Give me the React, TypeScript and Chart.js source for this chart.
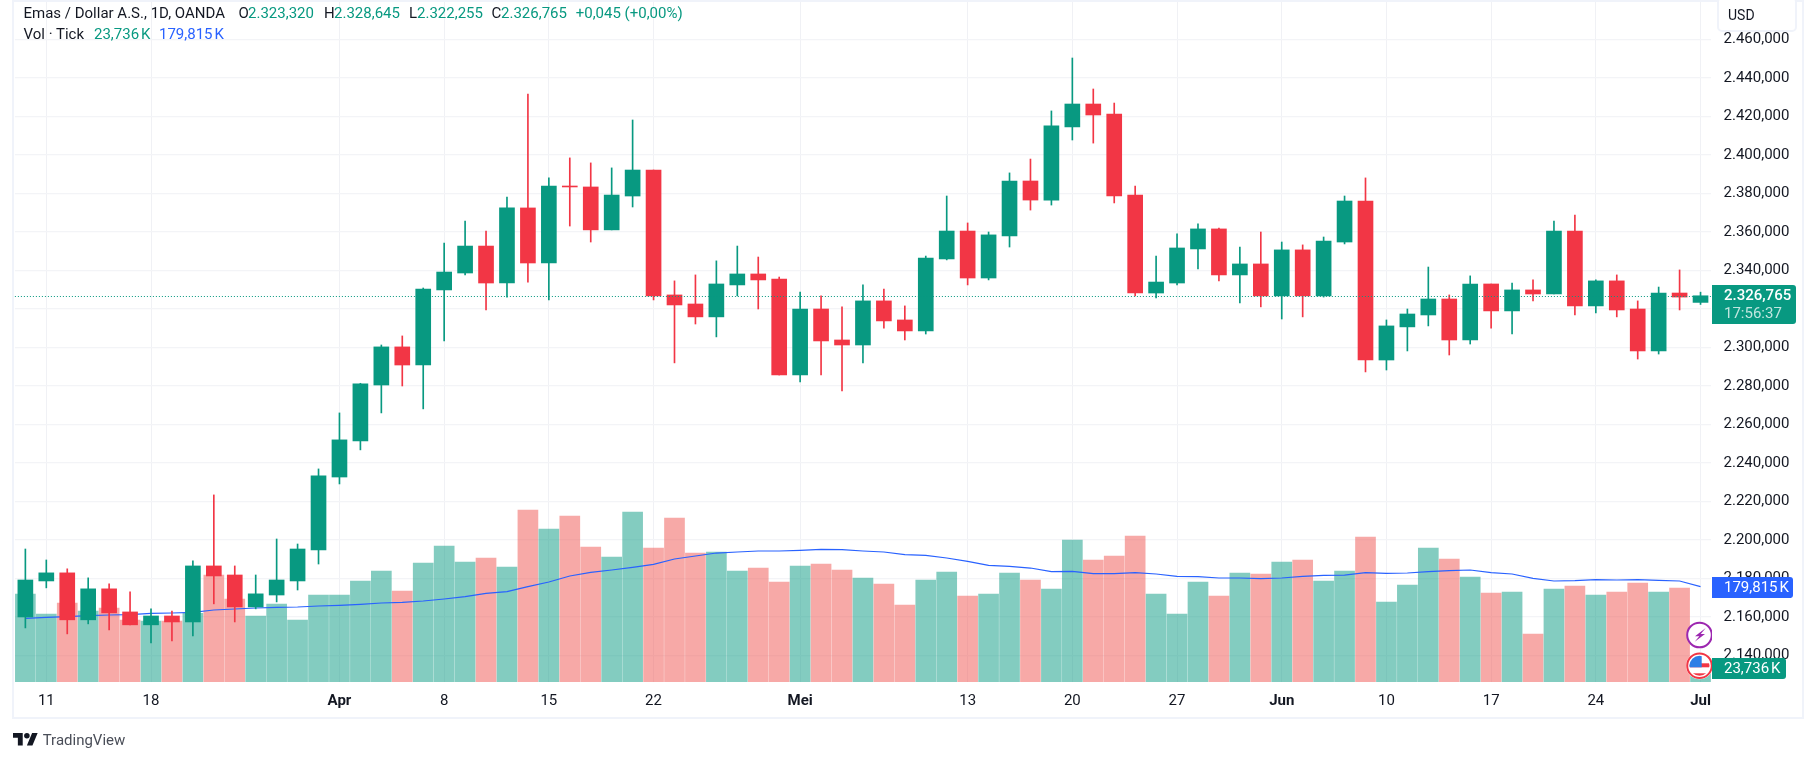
import { useEffect, useRef } from 'react';
import Chart from 'chart.js/auto';

const FONT = 'Roboto, sans-serif';
const GREEN = '#089981';
const RED = '#f23645';
const BLUE = '#2962ff';
const TEXT = '#131722';

// trading days, 2024 (MM-DD)
const days = [
  '03-08', '03-11', '03-12', '03-13', '03-14', '03-15', '03-18', '03-19', '03-20', '03-21', '03-22',
  '03-25', '03-26', '03-27', '03-28', '04-01', '04-02', '04-03', '04-04', '04-05', '04-08', '04-09',
  '04-10', '04-11', '04-12', '04-15', '04-16', '04-17', '04-18', '04-19', '04-22', '04-23', '04-24',
  '04-25', '04-26', '04-29', '04-30', '05-01', '05-02', '05-03', '05-06', '05-07', '05-08', '05-09',
  '05-10', '05-13', '05-14', '05-15', '05-16', '05-17', '05-20', '05-21', '05-22', '05-23', '05-24',
  '05-27', '05-28', '05-29', '05-30', '05-31', '06-03', '06-04', '06-05', '06-06', '06-07', '06-10',
  '06-11', '06-12', '06-13', '06-14', '06-17', '06-18', '06-19', '06-20', '06-21', '06-24', '06-25',
  '06-26', '06-27', '06-28', '07-01',
];

const dayTicks: Record<string, string> = {
  '03-11': '11', '03-18': '18', '04-01': 'Apr', '04-08': '8', '04-15': '15', '04-22': '22', '05-01': 'Mei',
  '05-13': '13', '05-20': '20', '05-27': '27', '06-03': 'Jun', '06-10': '10', '06-17': '17', '06-24': '24', '07-01': 'Jul',
};
const monthTicks = ['Apr', 'Mei', 'Jun', 'Jul'];

const opens = [
  2159.9, 2178.6, 2182.8, 2158.4, 2174.5, 2162.5, 2155.8, 2160.4, 2157.3, 2186.4, 2181.7,
  2165.1, 2171.3, 2178.6, 2194.7, 2232.6, 2251.3, 2280.4, 2300.2, 2290.8, 2329.8, 2338.6,
  2352.6, 2333.4, 2372.4, 2343.8, 2383.8, 2383.3, 2361.0, 2378.6, 2392.1, 2327.2, 2322.5,
  2315.8, 2332.4, 2338.1, 2335.5, 2285.6, 2319.9, 2303.8, 2301.2, 2324.1, 2314.2, 2308.5,
  2345.9, 2360.4, 2336.0, 2357.8, 2386.4, 2376.5, 2414.5, 2426.4, 2421.2, 2379.1, 2328.2,
  2333.4, 2351.1, 2361.5, 2337.6, 2343.3, 2326.7, 2350.6, 2326.7, 2354.7, 2376.0, 2293.4,
  2310.6, 2316.8, 2325.1, 2303.8, 2332.9, 2318.9, 2329.8, 2327.7, 2360.4, 2321.5, 2334.5,
  2319.9, 2298.1, 2328.2, 2323.32,
];
const highs = [
  2195.2, 2189.5, 2184.9, 2180.2, 2177.1, 2172.9, 2164.1, 2163.0, 2189.0, 2223.3, 2186.4,
  2181.7, 2200.4, 2197.8, 2236.8, 2265.9, 2281.3, 2301.2, 2305.9, 2330.8, 2354.2, 2365.6,
  2360.4, 2378.1, 2431.6, 2388.0, 2398.4, 2395.8, 2393.2, 2418.1, 2392.1, 2334.5, 2337.6,
  2344.9, 2352.6, 2346.9, 2336.5, 2328.7, 2326.7, 2321.0, 2332.4, 2330.3, 2321.5, 2347.4,
  2378.6, 2364.6, 2359.9, 2390.6, 2397.8, 2422.8, 2450.3, 2434.2, 2426.9, 2383.8, 2347.4,
  2358.9, 2364.1, 2362.0, 2352.1, 2359.9, 2354.7, 2353.2, 2357.3, 2378.6, 2388.0, 2314.2,
  2319.9, 2341.7, 2327.2, 2337.1, 2332.9, 2333.4, 2335.0, 2365.6, 2368.7, 2335.0, 2337.6,
  2324.1, 2331.3, 2340.2, 2328.645,
];
const lows = [
  2154.2, 2175.0, 2151.1, 2156.3, 2153.2, 2155.8, 2146.4, 2147.4, 2150.0, 2166.7, 2157.3,
  2164.1, 2167.7, 2173.9, 2187.4, 2229.0, 2246.7, 2265.9, 2279.9, 2268.0, 2303.3, 2337.6,
  2319.4, 2326.1, 2333.9, 2324.6, 2363.0, 2354.7, 2361.0, 2372.9, 2324.6, 2291.9, 2312.1,
  2305.4, 2326.7, 2319.9, 2285.6, 2282.0, 2285.6, 2277.3, 2291.9, 2310.0, 2303.8, 2306.9,
  2345.4, 2332.4, 2335.0, 2352.1, 2371.3, 2373.9, 2407.7, 2406.1, 2375.0, 2326.7, 2325.6,
  2332.4, 2340.7, 2334.5, 2323.0, 2321.0, 2314.7, 2315.8, 2326.1, 2353.7, 2287.2, 2288.2,
  2298.1, 2311.1, 2296.0, 2301.7, 2310.0, 2306.9, 2324.1, 2327.7, 2316.8, 2317.8, 2315.8,
  2293.9, 2296.5, 2319.4, 2322.255,
];
const closes = [
  2179.1, 2182.8, 2158.4, 2174.5, 2162.0, 2155.8, 2160.4, 2157.3, 2186.4, 2181.2, 2165.1,
  2171.9, 2179.1, 2195.2, 2233.2, 2251.9, 2281.0, 2300.2, 2290.8, 2330.3, 2339.1, 2352.6,
  2333.4, 2372.4, 2343.8, 2383.8, 2383.3, 2361.0, 2379.1, 2392.1, 2326.7, 2322.0, 2315.8,
  2332.9, 2338.1, 2335.0, 2285.6, 2319.9, 2303.3, 2301.2, 2324.1, 2313.7, 2308.5, 2346.4,
  2360.4, 2336.0, 2358.4, 2386.4, 2376.5, 2415.0, 2426.4, 2420.7, 2378.6, 2328.2, 2333.9,
  2351.6, 2361.5, 2337.6, 2343.3, 2326.7, 2350.6, 2326.7, 2355.2, 2376.0, 2293.4, 2311.1,
  2317.3, 2325.1, 2303.8, 2332.9, 2318.9, 2329.8, 2327.7, 2360.4, 2321.5, 2334.5, 2319.4,
  2298.1, 2328.2, 2326.1, 2326.765,
];

// tick volume and its moving average, in thousands
const volumes = [
  166.0, 128.3, 149.0, 133.9, 139.6, 117.0, 115.1, 115.1, 129.5, 201.8, 156.6,
  124.5, 147.1, 117.0, 164.1, 164.1, 190.5, 209.4, 171.7, 224.5, 256.6, 226.4,
  233.9, 216.9, 324.5, 288.6, 313.1, 254.7, 235.8, 320.7, 252.8, 309.4, 243.3,
  245.2, 209.4, 215.0, 188.6, 218.8, 222.6, 211.3, 196.2, 184.9, 145.3, 192.4,
  207.5, 162.2, 166.0, 205.6, 192.4, 175.4, 267.9, 230.1, 237.7, 275.4, 166.0,
  128.3, 188.6, 162.2, 205.6, 203.7, 226.4, 230.1, 190.5, 209.4, 273.5, 150.9,
  183.0, 252.8, 232.0, 198.1, 167.9, 169.8, 90.5, 175.4, 181.1, 164.1, 169.8,
  186.8, 169.8, 177.3, 23.736,
];
const volumeAverage = [
  120.1, 122.0, 123.2, 125.1, 126.4, 127.0, 129.5, 130.2, 131.4, 135.8, 137.7,
  139.6, 140.9, 141.5, 143.4, 144.6, 146.5, 149.0, 150.3, 152.8, 156.6, 161.0,
  167.3, 170.4, 179.8, 188.6, 200.0, 206.9, 211.3, 216.3, 222.0, 232.0, 237.7,
  243.3, 245.2, 247.1, 247.1, 248.4, 250.3, 249.6, 247.1, 245.2, 240.2, 238.9,
  233.9, 227.6, 220.1, 218.2, 215.0, 208.1, 208.8, 204.4, 204.4, 206.2, 203.7,
  199.3, 198.7, 196.2, 196.2, 194.9, 196.2, 199.3, 201.2, 201.8, 206.2, 205.0,
  205.6, 208.1, 210.0, 211.3, 206.2, 203.7, 195.6, 190.5, 191.2, 193.0, 192.4,
  193.0, 191.8, 190.5, 179.815,
];

const lastClose = closes[closes.length - 1];

const isUp = (i: number) => closes[i] >= opens[i];
const upDown = (up: string, down: string) => days.map((_, i) => (isUp(i) ? up : down));

const priceLabel = (v: number) =>
  `${Math.floor(v / 1000)}.${String(v % 1000).padStart(3, '0')},000`;

const priceLine = {
  id: 'priceLine',
  afterDatasetsDraw(chart: any) {
    const { ctx, chartArea, scales } = chart;
    const y = Math.round(scales.y.getPixelForValue(lastClose)) + 0.5;
    ctx.save();
    ctx.strokeStyle = GREEN;
    ctx.lineWidth = 1;
    ctx.setLineDash([1, 2]);
    ctx.beginPath();
    ctx.moveTo(chartArea.left, y);
    ctx.lineTo(chartArea.right, y);
    ctx.stroke();
    ctx.restore();
  },
};

// the axes reserve room for half a tick label by default, which would shrink the plot
const noScalePadding = (s: any) => {
  s.paddingTop = 0;
  s.paddingBottom = 0;
  s.paddingLeft = 0;
  s.paddingRight = 0;
};

const box = (left: number, top: number, extra: any = {}): any => ({
  position: 'absolute',
  left,
  top,
  whiteSpace: 'nowrap',
  lineHeight: '20px',
  fontSize: 15,
  ...extra,
});

function Tag({ top, width, height, color, children }: any) {
  return (
    <div style={{ position: 'absolute', left: 1712, top, width, height, background: color, borderRadius: '0 3px 3px 0', color: '#fff', fontSize: 15 }}>
      {children}
    </div>
  );
}

export default function App() {
  const canvasRef = useRef<HTMLCanvasElement | null>(null);

  useEffect(() => {
    if (!canvasRef.current) return;
    const chart = new Chart(canvasRef.current, {
      type: 'bar',
      data: {
        labels: days,
        datasets: [
          {
            type: 'bar',
            label: 'Body',
            data: days.map((_, i) => [opens[i], closes[i]]),
            backgroundColor: upDown(GREEN, RED),
            barThickness: 15,
            grouped: false,
            yAxisID: 'y',
            order: 0,
          },
          {
            type: 'bar',
            label: 'Wick',
            data: days.map((_, i) => [lows[i], highs[i]]),
            backgroundColor: upDown(GREEN, RED),
            barThickness: 1,
            grouped: false,
            yAxisID: 'y',
            order: 1,
          },
          {
            type: 'line',
            label: 'Vol MA',
            data: volumeAverage,
            borderColor: BLUE,
            borderWidth: 1.2,
            pointRadius: 0,
            tension: 0,
            yAxisID: 'vol',
            order: 2,
          },
          {
            type: 'bar',
            label: 'Vol',
            data: volumes,
            backgroundColor: upDown('rgba(8,153,129,0.5)', 'rgba(239,83,80,0.5)'),
            barThickness: 20,
            grouped: false,
            yAxisID: 'vol',
            order: 3,
          },
        ],
      } as any,
      options: {
        responsive: false,
        animation: false,
        devicePixelRatio: 1,
        layout: { padding: { left: 14.9, top: 2, right: 12, bottom: 44 } },
        plugins: { legend: { display: false }, tooltip: { enabled: false } },
        scales: {
          x: {
            type: 'category',
            offset: true,
            border: { display: false },
            grid: {
              offset: false,
              drawTicks: false,
              color: (ctx: any) => (ctx.tick && ctx.tick.label ? '#f0f1f5' : 'transparent'),
            },
            ticks: {
              autoSkip: false,
              maxRotation: 0,
              padding: 10,
              color: TEXT,
              callback: (_v: any, i: number) => dayTicks[days[i]] || '',
              font: (ctx: any) => ({
                family: FONT,
                size: 15,
                weight: ctx.tick && monthTicks.includes(ctx.tick.label) ? 'bold' : 'normal',
              }),
            },
            afterFit: (s: any) => {
              s.height = 35;
              noScalePadding(s);
            },
          },
          y: {
            position: 'right',
            min: 2126.1,
            max: 2479.4,
            border: { display: false },
            grid: { drawTicks: false, color: '#f3f4f7', lineWidth: 1.2 },
            ticks: {
              stepSize: 20,
              includeBounds: false,
              padding: 12.5,
              color: TEXT,
              font: { family: FONT, size: 15 },
              callback: (v: any) => priceLabel(Number(v)),
            },
            afterFit: (s: any) => {
              s.width = 92;
              noScalePadding(s);
            },
          },
          vol: { display: false, min: 0, max: 1282.8 },
        },
      } as any,
      plugins: [priceLine],
    });
    return () => chart.destroy();
  }, []);

  return (
    <div style={{ position: 'absolute', left: 0, top: 0, width: 1815, height: 761, background: '#fff', overflow: 'hidden', fontFamily: FONT, color: TEXT }}>
      <canvas ref={canvasRef} width={1815} height={761} style={{ position: 'absolute', left: 0, top: 0, display: 'block' }} />

      {/* frame */}
      <div style={{ position: 'absolute', left: 12, top: 0, width: 1788, height: 715, border: '2px solid #f0f3fa' }} />

      {/* legend */}
      <span style={box(23.5, 3)}>Emas / Dollar A.S., 1D, OANDA</span>
      <span style={box(238.4, 3)}>O</span>
      <span style={box(248, 3, { color: GREEN })}>2.323,320</span>
      <span style={box(324, 3)}>H</span>
      <span style={box(334, 3, { color: GREEN })}>2.328,645</span>
      <span style={box(409, 3)}>L</span>
      <span style={box(417, 3, { color: GREEN })}>2.322,255</span>
      <span style={box(491.5, 3)}>C</span>
      <span style={box(501, 3, { color: GREEN })}>2.326,765</span>
      <span style={box(575.7, 3, { color: GREEN })}>+0,045 (+0,00%)</span>
      <span style={box(23.5, 24)}>Vol · Tick</span>
      <span style={box(94, 24, { color: GREEN })}>23,736{'\u202f'}K</span>
      <span style={box(159, 24, { color: BLUE })}>179,815{'\u202f'}K</span>

      {/* currency box */}
      <div style={{ position: 'absolute', left: 1717, top: -3, width: 76, height: 31, background: '#fff', border: '2px solid #f0f3fa', borderRadius: 5, fontSize: 14 }}>
        <span style={{ position: 'absolute', left: 9, top: 6, lineHeight: '20px' }}>USD</span>
      </div>

      {/* last values on the price scale */}
      <Tag top={285} width={84} height={39} color={GREEN}>
        <span style={box(12, 0, { fontWeight: 500 })}>2.326,765</span>
        <span style={box(12, 18, { color: 'rgba(255,255,255,0.75)' })}>17:56:37</span>
      </Tag>
      <Tag top={577} width={80.7} height={21} color={BLUE}>
        <span style={box(12, 0)}>179,815{'\u202f'}K</span>
      </Tag>
      <Tag top={658} width={74} height={20.5} color={GREEN}>
        <span style={box(12, 0)}>23,736{'\u202f'}K</span>
      </Tag>

      {/* event markers, cut off by the price scale */}
      <div style={{ position: 'absolute', left: 1680, top: 615, width: 32, height: 70, overflow: 'hidden' }}>
        <svg width="32" height="70" viewBox="0 0 32 70">
          <circle cx="19.5" cy="20" r="12.3" fill="#fff" stroke="#9c27b0" strokeWidth="2" />
          <path d="M25.7 13L15 21.300h4.300L14.700 26.700 25 19h-4.300z" fill="#9c27b0" />
          <clipPath id="flag"><circle cx="19.500" cy="50.700" r="10" /></clipPath>
          <circle cx="19.500" cy="50.700" r="13.500" fill="#fff" />
          <g clipPath="url(#flag)">
            <rect x="9" y="48.300" width="22" height="4" fill="#f23645" />
            <rect x="9" y="58.300" width="22" height="4" fill="#f23645" />
            <rect x="9" y="40" width="12.700" height="12.300" fill="#2e7ee6" />
          </g>
          <circle cx="19.500" cy="50.700" r="12.300" fill="none" stroke="#f23645" strokeWidth="2" />
        </svg>
      </div>

      {/* attribution */}
      <svg style={{ position: 'absolute', left: 13, top: 730 }} width="25" height="17" viewBox="0 0 36 24">
        <path d="M14 22H7V11H0V4h14v18zM28 22h-8l7.5-18h8L28 22z" fill={TEXT} />
        <circle cx="20" cy="8" r="4" fill={TEXT} />
      </svg>
      <span style={box(42.7, 730, { color: '#4a4e58' })}>TradingView</span>
    </div>
  );
}
